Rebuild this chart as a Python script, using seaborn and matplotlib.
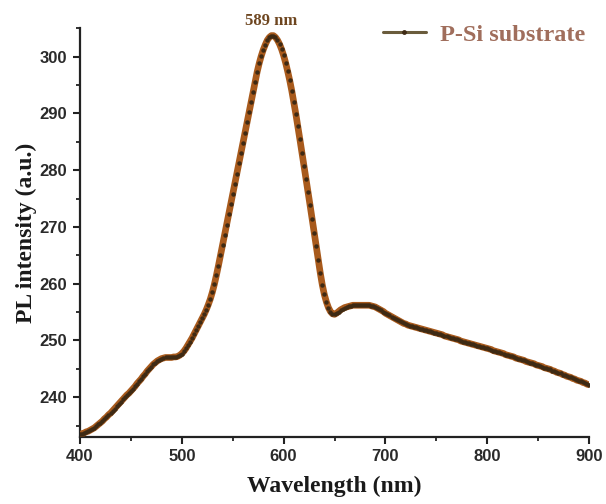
import numpy as np
import pandas as pd
import matplotlib
matplotlib.use("Agg")
import matplotlib.pyplot as plt
from matplotlib.lines import Line2D
from matplotlib.ticker import MultipleLocator
import seaborn as sns

# Wavelength grid (nm), 2 nm steps
wavelength = np.arange(400, 901, 2)

# PL intensity (a.u.), one value per 2 nm
intensity = [
    233.5, 233.6, 233.7, 233.9, 234.0, 234.2, 234.4, 234.6, 234.9, 235.2,  # 400-418
    235.5, 235.8, 236.2, 236.5, 236.9, 237.2, 237.6, 238.0, 238.4, 238.8,  # 420-438
    239.2, 239.6, 240.0, 240.4, 240.7, 241.1, 241.5, 241.9, 242.4, 242.8,  # 440-458
    243.2, 243.7, 244.1, 244.6, 245.0, 245.4, 245.8, 246.1, 246.4, 246.6,  # 460-478
    246.8, 246.9, 247.0, 247.0, 247.0, 247.0, 247.1, 247.1, 247.2, 247.4,  # 480-498
    247.7, 248.1, 248.6, 249.2, 249.8, 250.4, 251.1, 251.8, 252.5, 253.2,  # 500-518
    253.9, 254.6, 255.4, 256.3, 257.3, 258.5, 259.9, 261.5, 263.2, 265.0,  # 520-538
    266.8, 268.6, 270.4, 272.2, 274.0, 275.8, 277.6, 279.4, 281.2, 283.0,  # 540-558
    284.8, 286.6, 288.4, 290.2, 292.0, 293.8, 295.6, 297.3, 298.8, 300.1,  # 560-578
    301.2, 302.1, 302.9, 303.4, 303.7, 303.7, 303.4, 302.9, 302.2, 301.3,  # 580-598
    300.2, 298.9, 297.4, 295.8, 294.0, 292.0, 289.9, 287.7, 285.4, 283.1,  # 600-618
    280.8, 278.5, 276.2, 273.8, 271.4, 269.0, 266.6, 264.2, 261.9, 259.8,  # 620-638
    258.1, 256.8, 255.8, 255.1, 254.7, 254.6, 254.8, 255.1, 255.4, 255.6,  # 640-658
    255.8, 255.9, 256.0, 256.1, 256.2, 256.2, 256.2, 256.2, 256.2, 256.2,  # 660-678
    256.2, 256.2, 256.2, 256.1, 256.0, 255.9, 255.7, 255.5, 255.3, 255.1,  # 680-698
    254.8, 254.6, 254.4, 254.2, 254.0, 253.8, 253.6, 253.4, 253.2, 253.0,  # 700-718
    252.9, 252.7, 252.6, 252.5, 252.4, 252.3, 252.2, 252.1, 252.0, 251.9,  # 720-738
    251.8, 251.7, 251.6, 251.5, 251.4, 251.3, 251.2, 251.1, 251.0, 250.8,  # 740-758
    250.7, 250.6, 250.5, 250.4, 250.3, 250.2, 250.1, 249.9, 249.8, 249.7,  # 760-778
    249.6, 249.5, 249.4, 249.3, 249.2, 249.1, 249.0, 248.9, 248.8, 248.7,  # 780-798
    248.6, 248.5, 248.4, 248.2, 248.1, 248.0, 247.9, 247.8, 247.7, 247.5,  # 800-818
    247.4, 247.3, 247.2, 247.1, 246.9, 246.8, 246.7, 246.6, 246.5, 246.3,  # 820-838
    246.2, 246.1, 246.0, 245.9, 245.7, 245.6, 245.5, 245.4, 245.2, 245.1,  # 840-858
    245.0, 244.9, 244.7, 244.6, 244.4, 244.3, 244.2, 244.0, 243.9, 243.7,  # 860-878
    243.6, 243.5, 243.3, 243.2, 243.0, 242.9, 242.8, 242.6, 242.5, 242.3,  # 880-898
    242.2,                                                                  # 900
]

series_label = "P-Si substrate"
peak_label = "589 nm"
peak_wavelength = 589
x_ticks = [400, 500, 600, 700, 800, 900]
y_ticks = [240, 250, 260, 270, 280, 290, 300]

df = pd.DataFrame({"Wavelength": wavelength, "PL": intensity})

sns.set_style("ticks")
plt.rcParams["font.family"] = ["Liberation Sans", "DejaVu Sans"]

fig = plt.figure(figsize=(6.06, 5.04), dpi=100)
ax = fig.add_axes([0.132, 0.133, 0.840, 0.811])

line_color = "#a85a1c"
marker_color = "#3e2a14"

sns.lineplot(data=df, x="Wavelength", y="PL", ax=ax, color=line_color,
             linewidth=4.8, marker="o", markersize=3.2,
             markerfacecolor=marker_color, markeredgewidth=0,
             legend=False, zorder=3)

ax.set_xlim(400, 900)
ax.set_ylim(233, 305)
ax.set_xticks(x_ticks)
ax.set_yticks(y_ticks)
ax.xaxis.set_minor_locator(MultipleLocator(50))
ax.yaxis.set_minor_locator(MultipleLocator(5))

ax.spines["top"].set_visible(False)
ax.spines["right"].set_visible(False)
for s in ("left", "bottom"):
    ax.spines[s].set_linewidth(1.6)
    ax.spines[s].set_color("#222222")

ax.tick_params(axis="both", which="major", direction="out", length=5,
               width=1.5, color="#222222", labelsize=12, labelcolor="#2a2a2a", pad=4)
ax.tick_params(axis="both", which="minor", direction="out", length=3,
               width=1.3, color="#222222")
for lab in ax.get_xticklabels() + ax.get_yticklabels():
    lab.set_fontweight("bold")

serif = ["Liberation Serif", "DejaVu Serif"]
ax.set_xlabel("Wavelength (nm)", fontsize=17, fontweight="bold",
              family=serif, color="#1a1a1a", labelpad=8)
ax.set_ylabel("PL intensity (a.u.)", fontsize=17, fontweight="bold",
              family=serif, color="#1a1a1a", labelpad=2)

peak_val = intensity[list(wavelength).index(588)]
ax.annotate(peak_label, xy=(peak_wavelength, peak_val), xytext=(-1, 5),
            textcoords="offset points", ha="center", va="bottom",
            fontsize=12, fontweight="bold", family=serif, color="#6e4620",
            annotation_clip=False)

handle = Line2D([], [], color="#6a5c3c", linewidth=2.2, marker="o",
                markersize=3.5, markerfacecolor="#3e2a14", markeredgewidth=0)
leg = ax.legend([handle], [series_label], loc="upper right",
                bbox_to_anchor=(1.035, 1.065), frameon=False, handlelength=1.8,
                handletextpad=0.55,
                prop={"family": serif, "weight": "bold", "size": 17.5})
for t in leg.get_texts():
    t.set_color("#a06e5c")

fig.savefig("out.png", dpi=100)
